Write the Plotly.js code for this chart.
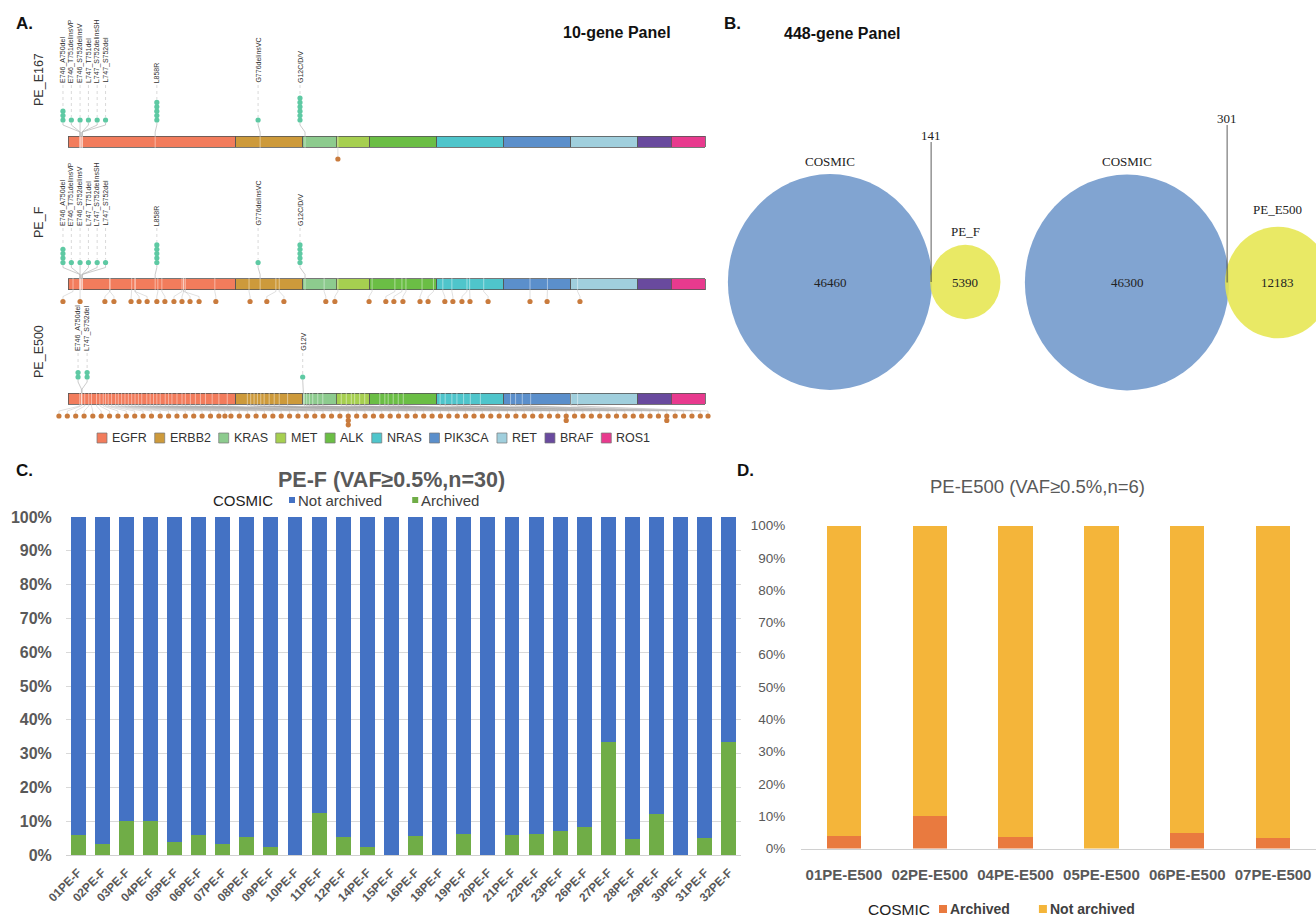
<!DOCTYPE html>
<html><head><meta charset="utf-8">
<script src="https://cdn.plot.ly/plotly-3.0.1.min.js"></script>
<style>html,body{margin:0;padding:0;background:#fff}#chart{width:1316px;height:919px}</style>
</head><body><div id="chart"></div>
<script>
// ================= DATA =================
// Panel A: 10-gene panel lollipop
const genes = ['EGFR','ERBB2','KRAS','MET','ALK','NRAS','PIK3CA','RET','BRAF','ROS1'];
const geneLengths = [5,2,1,1,2,2,2,2,1,1];
const samplesA = ['PE_E167','PE_F','PE_E500'];

const e167Labels = ['E746_A750del','E746_T751delinsVP','E746_S752delinsV','L747_T751del','L747_S752delinsSH','L747_S752del','L858R','G776delinsVC','G12C/D/V'];
const e167Counts = [3,1,1,1,1,1,5,1,6];
const e167Spread = [-0.15,0.10,0.36,0.61,0.87,1.12,2.65,5.67,6.92];
const e167Pos    = [0.36,0.36,0.36,0.42,0.42,0.42,2.60,5.73,7.07];
const e167LowSpread = [8.05];
const e167LowPos    = [8.05];
const e167LowCounts = [1];

const pefLabels = ['E746_A750del','E746_T751delinsVP','E746_S752delinsV','L747_T751del','L747_S752delinsSH','L747_S752del','L858R','G776delinsVC','G12C/D/V'];
const pefCounts = [4,1,1,1,1,1,5,1,5];
const pefSpread = [-0.15,0.10,0.36,0.61,0.87,1.12,2.65,5.67,6.92];
const pefPos    = [0.36,0.36,0.36,0.42,0.42,0.42,2.60,5.73,7.07];
const pefLowSpread = [-0.15,0.36,1.10,1.37,1.88,2.12,2.36,2.65,2.89,3.16,3.40,3.64,3.91,4.41,5.43,5.93,6.44,7.69,7.96,8.98,9.48,9.72,9.99,10.50,10.74,11.24,11.48,11.75,11.99,12.53,13.78,14.29,15.27];
const pefLowPos    = [0.15,0.36,1.25,1.25,1.90,2.00,2.00,2.68,2.80,3.40,3.45,3.50,3.45,4.38,5.40,6.20,6.30,7.64,8.05,9.07,9.75,9.96,10.08,10.56,10.90,11.18,11.45,11.90,11.98,12.40,13.78,14.30,15.20];
const pefLowCounts = [1,1,1,1,1,1,1,1,1,1,1,1,1,1,1,1,1,1,1,1,1,1,1,1,1,1,1,1,1,1,1,1,1];

const e500Labels = ['E746_A750del','L747_S752del','G12V'];
const e500Counts = [2,2,1];
const e500Spread = [0.30,0.57,7.00];
const e500Pos    = [0.40,0.42,7.02];
const e500LowSpread = [-0.27,-0.02,0.23,0.48,0.74,0.99,1.24,1.49,1.74,1.99,
  2.24,2.49,2.75,3.00,3.25,3.50,3.75,4.00,4.25,4.50,
  4.68,4.86,5.11,5.36,5.61,5.86,6.11,6.36,6.61,6.86,
  7.11,7.36,7.61,7.86,8.11,8.36,8.61,8.86,9.11,9.36,
  9.61,9.86,10.11,10.36,10.61,10.86,11.11,11.36,11.61,11.86,
  12.11,12.36,12.61,12.86,13.11,13.36,13.61,13.86,14.11,14.36,
  14.61,14.86,15.11,15.36,15.61,15.86,16.11,16.36,16.61,16.86,
  17.11,17.36,17.61,17.86,18.11,18.36,18.61,18.86,19.09];
const e500LowPos = [0.35,0.40,0.50,0.62,0.70,0.85,0.95,1.05,1.12,1.20,1.30,1.42,1.50,1.60,1.70,1.80,1.90,2.00,2.10,2.20,2.35,2.45,2.55,2.65,2.75,2.90,3.00,3.10,3.25,3.40,3.50,3.65,3.80,3.95,4.10,4.30,4.50,4.75,
  5.35,5.45,5.55,5.65,5.75,5.85,6.00,6.15,6.30,6.55,
  7.05,7.12,7.20,7.30,7.45,7.60,
  8.15,8.30,8.45,8.55,8.70,8.85,
  9.30,9.45,9.55,9.70,9.85,10.00,
  11.10,11.25,11.45,11.60,11.80,12.00,12.30,
  13.20,13.35,13.55,13.80,
  15.00,15.20];
const e500LowCounts = [1,1,1,1,1,1,1,1,1,1, 1,1,1,1,1,1,1,1,1,1, 1,1,1,1,1,1,1,1,1,1,
  1,1,1,1,1,3,1,1,1,1, 1,1,1,1,1,1,1,1,1,1, 1,1,1,1,1,1,1,1,1,1,
  1,2,1,1,1,1,1,1,1,1, 1,1,1,2,1,1,1,1,1];

// Panel B: Venn counts (448-gene panel)
const vennLeftNames = ['COSMIC','PE_F'];
const vennLeftOnly = [46460, 5390];
const vennLeftShared = 141;
const vennRightNames = ['COSMIC','PE_E500'];
const vennRightOnly = [46300, 12183];
const vennRightShared = 301;

// Panel C
const samplesC = ['01PE-F','02PE-F','03PE-F','04PE-F','05PE-F','06PE-F','07PE-F','08PE-F','09PE-F','10PE-F','11PE-F','12PE-F','14PE-F','15PE-F','16PE-F','18PE-F','19PE-F','20PE-F','21PE-F','22PE-F','23PE-F','26PE-F','27PE-F','28PE-F','29PE-F','30PE-F','31PE-F','32PE-F'];
const archivedC    = [0.058,0.034,0.100,0.100,0.038,0.058,0.032,0.053,0.024,0.000,0.125,0.054,0.024,0.000,0.055,0.000,0.062,0.000,0.059,0.063,0.072,0.083,0.333,0.046,0.121,0.000,0.050,0.333];
const notArchivedC = [0.942,0.966,0.900,0.900,0.962,0.942,0.968,0.947,0.976,1.000,0.875,0.946,0.976,1.000,0.945,1.000,0.938,1.000,0.941,0.937,0.928,0.917,0.667,0.954,0.879,1.000,0.950,0.667];

// Panel D
const samplesD = ['01PE-E500','02PE-E500','04PE-E500','05PE-E500','06PE-E500','07PE-E500'];
const archivedD    = [0.040,0.100,0.036,0.000,0.049,0.034];
const notArchivedD = [0.960,0.900,0.964,1.000,0.951,0.966];

// ================= STYLE =================
const SANS = 'Liberation Sans, Arial, sans-serif';
const SERIF = 'Liberation Serif, Times New Roman, serif';
const geneColors = ['#f27c5c','#cd9a3b','#8dcb8e','#a6cf50','#6bbe45','#4fc5cb','#5b8fcb','#a0cfdd','#694a9e','#e83a8e'];
const GREEN_DOT = '#5ec9a3', ORANGE_DOT = '#c97b3d';
const BAR_H = 11, DOT_STEP = 4.4, DOT_GAP = 16, LOW_GAP = 12;
const ROW_LAYOUT = [
  {y:141.5, labelBottom:84,  nameY:80},
  {y:284,   labelBottom:227, nameY:222},
  {y:398.5, labelBottom:352, nameY:352}
];
const rowsA = [
  {labels:e167Labels, counts:e167Counts, spread:e167Spread, pos:e167Pos, lowSpread:e167LowSpread, lowPos:e167LowPos, lowCounts:e167LowCounts},
  {labels:pefLabels, counts:pefCounts, spread:pefSpread, pos:pefPos, lowSpread:pefLowSpread, lowPos:pefLowPos, lowCounts:pefLowCounts},
  {labels:e500Labels, counts:e500Counts, spread:e500Spread, pos:e500Pos, lowSpread:e500LowSpread, lowPos:e500LowPos, lowCounts:e500LowCounts}
];

const traces = [], annotations = [], shapes = [];
const ann = o => annotations.push(Object.assign({showarrow:false, xref:'x4', yref:'y4'}, o));
const mctx = document.createElement('canvas').getContext('2d');
function measure(s, size, family, weight){ mctx.font = (weight||'normal') + ' ' + size + 'px ' + family; return mctx.measureText(s).width; }

// ---------- Panel A ----------
genes.forEach((g,i)=>{
  traces.push({type:'bar', orientation:'h', x:ROW_LAYOUT.map(()=>geneLengths[i]), y:ROW_LAYOUT.map(r=>r.y),
    width:BAR_H, marker:{color:geneColors[i], line:{color:'#555', width:0.8}}, xaxis:'x', yaxis:'y', hoverinfo:'skip', showlegend:false});
});
const tickX=[], tickY=[];
const gLineX=[], gLineY=[], dotLineX=[], dotLineY=[], gDotX=[], gDotY=[];
const oLineX=[], oLineY=[], oDotX=[], oDotY=[];
rowsA.forEach((row, r)=>{
  const L = ROW_LAYOUT[r];
  const top = L.y - BAR_H/2, bot = L.y + BAR_H/2;
  const dotBase = top - DOT_GAP;
  row.pos.forEach(p=>{tickX.push(p); tickY.push(L.y);});
  row.lowPos.forEach(p=>{tickX.push(p); tickY.push(L.y);});
  row.labels.forEach((lab,i)=>{
    const sx = row.spread[i], px = row.pos[i];
    gLineX.push(sx, sx, px, px, null); gLineY.push(dotBase+2.5, dotBase+5, top-4, top, null);
    const topDot = dotBase - (row.counts[i]-1)*DOT_STEP;
    dotLineX.push(sx, sx, null); dotLineY.push(L.labelBottom+1, topDot-3, null);
    for(let k=0;k<row.counts[i];k++){ gDotX.push(sx); gDotY.push(dotBase - k*DOT_STEP); }
    annotations.push({x:sx, y:L.labelBottom, xref:'x', yref:'y', text:lab, showarrow:false, textangle:-90,
      xanchor:'center', yanchor:'bottom', borderpad:0, font:{family:SANS, size:7, color:'#333'}});
  });
  const lowBase = bot + LOW_GAP;
  row.lowSpread.forEach((sx,i)=>{
    const px = row.lowPos[i];
    oLineX.push(px, px, sx, sx, null); oLineY.push(bot, bot+2, lowBase-5, lowBase-2.5, null);
    for(let k=0;k<row.lowCounts[i];k++){ oDotX.push(sx); oDotY.push(lowBase + k*DOT_STEP); }
  });
  ann({x:39, y:L.nameY, text:samplesA[r], textangle:-90, font:{family:SANS, size:12.5, color:'#333'}});
});
traces.push({type:'scatter', mode:'markers', x:tickX, y:tickY, xaxis:'x', yaxis:'y', hoverinfo:'skip', showlegend:false,
  marker:{symbol:'line-ns', size:BAR_H-1, line:{color:'rgba(255,255,255,0.65)', width:0.7}}});
traces.push({type:'scatter', mode:'lines', x:gLineX, y:gLineY, xaxis:'x', yaxis:'y', hoverinfo:'skip', showlegend:false, line:{color:'#b5b5b5', width:0.7}});
traces.push({type:'scatter', mode:'lines', x:dotLineX, y:dotLineY, xaxis:'x', yaxis:'y', hoverinfo:'skip', showlegend:false, line:{color:'#c8c8c8', width:0.7, dash:'dot'}});
traces.push({type:'scatter', mode:'lines', x:oLineX, y:oLineY, xaxis:'x', yaxis:'y', hoverinfo:'skip', showlegend:false, line:{color:'rgba(160,160,160,0.55)', width:0.6}});
traces.push({type:'scatter', mode:'markers', x:gDotX, y:gDotY, xaxis:'x', yaxis:'y', hoverinfo:'skip', showlegend:false, cliponaxis:false, marker:{color:GREEN_DOT, size:5.2}});
traces.push({type:'scatter', mode:'markers', x:oDotX, y:oDotY, xaxis:'x', yaxis:'y', hoverinfo:'skip', showlegend:false, cliponaxis:false, marker:{color:ORANGE_DOT, size:5.2}});

// custom legend helper (overlay axis in pixel units)
function addLegend(items, o){
  let x = o.x0;
  if(o.title){
    const ts = o.titleSize || o.size;
    ann({x:x, y:o.y, text:o.title, xanchor:'left', yanchor:'middle', borderpad:0, font:{family:o.family, size:ts, color:o.titleColor||o.color}});
    x += measure(o.title, ts, o.family) + o.titleGap;
  }
  const xs=[], ys=[], cs=[];
  items.forEach(it=>{
    xs.push(x + o.sw/2); ys.push(o.y); cs.push(it.color);
    ann({x:x + o.sw + o.textGap, y:o.y, text:it.name, xanchor:'left', yanchor:'middle', borderpad:0,
      font:{family:o.family, size:o.size, color:o.color, weight:o.weight||'normal'}});
    x += o.sw + o.textGap + measure(it.name, o.size, o.family, o.weight) + o.itemGap;
  });
  traces.push({type:'scatter', mode:'markers', x:xs, y:ys, xaxis:'x4', yaxis:'y4', hoverinfo:'skip', showlegend:false,
    marker:{symbol:'square', size:o.sw, color:cs, line:{color:o.border||'rgba(0,0,0,0)', width:o.border?0.7:0}}});
}
addLegend(genes.map((g,i)=>({name:g, color:geneColors[i]})), {x0:97, y:438, sw:10, textGap:4, itemGap:9, size:12.5, family:SANS, color:'#333', border:'#777'});

ann({x:14, y:23, text:'A.', xanchor:'left', font:{family:SANS, size:17, weight:'bold', color:'#111'}});
ann({x:617, y:32, text:'10-gene Panel', font:{family:SANS, size:16, weight:'bold', color:'#111'}});

// ---------- Panel B: Venn ----------
const VENN_KX = 0.473, VENN_KY = 0.5;
function venn(names, only, shared, cx, cy, overlap, sharedLabelY, nameGap2){
  const totals = [only[0]+shared, only[1]+shared];
  const rx = totals.map(t=>VENN_KX*Math.sqrt(t)), ry = totals.map(t=>VENN_KY*Math.sqrt(t));
  const cx2 = cx + rx[0] + rx[1] - overlap;
  shapes.push({type:'circle', xref:'x4', yref:'y4', x0:cx-rx[0], x1:cx+rx[0], y0:cy-ry[0], y1:cy+ry[0], fillcolor:'#81a4d1', line:{width:0}});
  shapes.push({type:'circle', xref:'x4', yref:'y4', x0:cx2-rx[1], x1:cx2+rx[1], y0:cy-ry[1], y1:cy+ry[1], fillcolor:'rgba(230,230,80,0.88)', line:{width:0}});
  const lx = cx + rx[0] - overlap/2;
  shapes.push({type:'line', xref:'x4', yref:'y4', x0:lx, x1:lx, y0:sharedLabelY+7, y1:cy, line:{color:'#333', width:0.8}});
  const f = {family:SERIF, size:13, color:'#222'};
  ann({x:cx, y:cy-ry[0]-13, text:names[0], font:f});
  ann({x:cx2, y:cy-ry[1]-nameGap2, text:names[1], font:f});
  ann({x:cx, y:cy, text:String(only[0]), font:f});
  ann({x:cx2, y:cy, text:String(only[1]), font:f});
  ann({x:lx, y:sharedLabelY, text:String(shared), font:f});
}
venn(vennLeftNames, vennLeftOnly, vennLeftShared, 830, 282, 2, 135, 13);
venn(vennRightNames, vennRightOnly, vennRightShared, 1127, 282.5, 4, 118, 17);
ann({x:722, y:23, text:'B.', xanchor:'left', font:{family:SANS, size:17, weight:'bold', color:'#111'}});
ann({x:842, y:33, text:'448-gene Panel', font:{family:SANS, size:16, weight:'bold', color:'#111'}});

// ---------- Panel C ----------
traces.push({type:'bar', x:samplesC, y:archivedC, name:'Archived', marker:{color:'#70ad47'}, width:0.62, xaxis:'x2', yaxis:'y2', hoverinfo:'skip', showlegend:false});
traces.push({type:'bar', x:samplesC, y:notArchivedC, name:'Not archived', marker:{color:'#4472c4'}, width:0.62, xaxis:'x2', yaxis:'y2', hoverinfo:'skip', showlegend:false});
ann({x:14, y:470, text:'C.', xanchor:'left', font:{family:SANS, size:17, weight:'bold', color:'#111'}});
ann({x:391, y:480, text:'PE-F (VAF≥0.5%,n=30)', font:{family:SANS, size:21.5, weight:'bold', color:'#595959'}});
addLegend([{name:'Not archived', color:'#4472c4'},{name:'Archived', color:'#70ad47'}], {title:'COSMIC', x0:212, y:500, sw:6, textGap:2, itemGap:31, titleGap:17, size:15, family:SANS, color:'#404040', titleColor:'#222'});

// ---------- Panel D ----------
traces.push({type:'bar', x:samplesD, y:archivedD, name:'Archived', marker:{color:'#e97a3f'}, width:0.4, xaxis:'x3', yaxis:'y3', hoverinfo:'skip', showlegend:false});
traces.push({type:'bar', x:samplesD, y:notArchivedD, name:'Not archived', marker:{color:'#f4b53a'}, width:0.4, xaxis:'x3', yaxis:'y3', hoverinfo:'skip', showlegend:false});
ann({x:735, y:470, text:'D.', xanchor:'left', font:{family:SANS, size:17, weight:'bold', color:'#111'}});
ann({x:1037, y:486, text:'PE-E500 (VAF≥0.5%,n=6)', font:{family:SANS, size:18.5, color:'#595959'}});
addLegend([{name:'Archived', color:'#e97a3f'},{name:'Not archived', color:'#f4b53a'}], {title:'COSMIC', titleSize:15.5, x0:867, y:909, sw:8, textGap:2, itemGap:30, titleGap:10, size:14, family:SANS, color:'#404040', weight:'bold', titleColor:'#222'});

const W = 1316, H = 919;
const layout = {
  width:W, height:H, margin:{l:0,r:0,t:0,b:0}, paper_bgcolor:'#fff', plot_bgcolor:'rgba(0,0,0,0)',
  showlegend:false, barmode:'stack',
  xaxis:{domain:[40/W, 720/W], range:[-0.835, 19.447], visible:false, fixedrange:true, anchor:'y'},
  yaxis:{domain:[0,1], range:[H,0], visible:false, fixedrange:true, anchor:'x'},
  xaxis2:{domain:[66/W, 741/W], anchor:'y2', type:'category', tickangle:-45, showgrid:false, showline:true, linecolor:'#d0d0d0',
    ticks:'outside', ticklen:5, tickcolor:'rgba(0,0,0,0)', tickfont:{family:SANS, size:12, color:'#595959', weight:'bold'}},
  yaxis2:{domain:[1-855/H, 1-517/H], anchor:'x2', range:[0,1], dtick:0.1, tickformat:'.0%', showgrid:true, gridcolor:'#d9d9d9', zeroline:false,
    ticks:'outside', ticklen:10, tickcolor:'rgba(0,0,0,0)', tickfont:{family:SANS, size:16, color:'#595959', weight:'bold'}},
  xaxis3:{domain:[801/W, 1], anchor:'y3', type:'category', tickangle:0, showgrid:false, showline:true, linecolor:'#d0d0d0',
    ticks:'outside', ticklen:12, tickcolor:'rgba(0,0,0,0)', tickfont:{family:SANS, size:15, color:'#595959', weight:'bold'}},
  yaxis3:{domain:[1-848.5/H, 1-525.5/H], anchor:'x3', range:[0,1], dtick:0.1, tickformat:'.0%', showgrid:false, zeroline:false,
    ticks:'outside', ticklen:12, tickcolor:'rgba(0,0,0,0)', tickfont:{family:SANS, size:13.5, color:'#595959'}},
  xaxis4:{domain:[0,1], range:[0,W], visible:false, fixedrange:true, anchor:'y4'},
  yaxis4:{domain:[0,1], range:[H,0], visible:false, fixedrange:true, anchor:'x4'},
  shapes:shapes, annotations:annotations
};
Plotly.newPlot('chart', traces, layout, {displayModeBar:false, staticPlot:true});
</script></body></html>
